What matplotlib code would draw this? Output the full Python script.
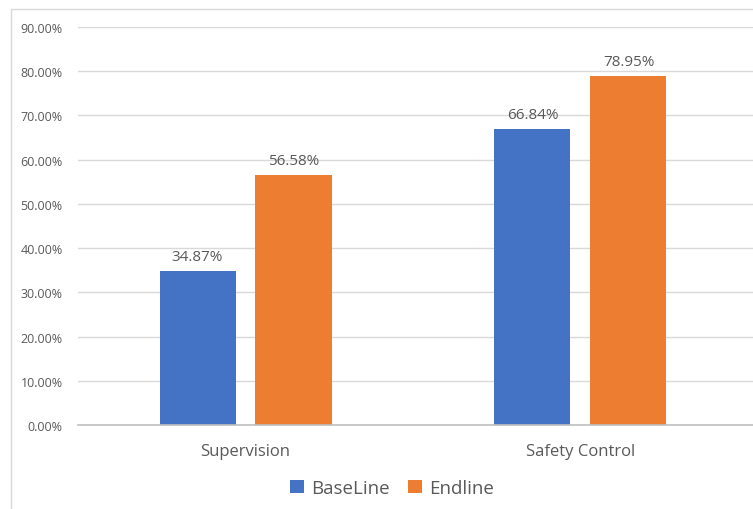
import matplotlib
matplotlib.use("Agg")
import matplotlib.pyplot as plt
from matplotlib.patches import Rectangle
import numpy as np

categories = ["Supervision", "Safety Control"]
series_names = ["BaseLine", "Endline"]
baseline = [34.87, 66.84]
endline = [56.58, 78.95]
colors = ["#4472C4", "#ED7D31"]
yticks = [0, 10, 20, 30, 40, 50, 60, 70, 80, 90]

plt.rcParams["font.family"] = ["Open Sans", "DejaVu Sans"]
W, H = 753, 510
fig = plt.figure(figsize=(W / 100, H / 100), dpi=100)

# chart frame
fig.patches.append(Rectangle((11 / W, -0.1), 1.2, (H - 10) / H + 0.1,
                             transform=fig.transFigure, fill=False,
                             edgecolor="#d9d9d9", linewidth=1))

ax = fig.add_axes([78 / W, (H - 426) / H, (753 - 78) / W, (426 - 28) / H])
x = np.arange(len(categories))
bw = 76 / 335
off = 48 / 335
text_color = "#595959"

for vals, name, c, dx in [(baseline, series_names[0], colors[0], -off),
                          (endline, series_names[1], colors[1], off)]:
    bars = ax.bar(x + dx, vals, width=bw, color=c, label=name, zorder=3)
    for b, v in zip(bars, vals):
        ax.text(b.get_x() + b.get_width() / 2, v + 1.6, f"{v:.2f}%",
                ha="center", va="bottom", fontsize=11, color=text_color)

ax.set_xlim(-0.5, 1.5 + 5 / 335)
ax.set_ylim(0, 90)
ax.set_yticks(yticks)
ax.set_yticklabels([f"{t:.2f}%" for t in yticks], fontsize=9, color=text_color)
ax.set_xticks(x)
ax.set_xticklabels(categories, fontsize=12, color=text_color)
ax.tick_params(axis="both", length=0)
ax.tick_params(axis="y", pad=11)
ax.tick_params(axis="x", pad=13)
ax.grid(axis="y", color="#d9d9d9", linewidth=1, zorder=0)
for s in ["top", "right", "left"]:
    ax.spines[s].set_visible(False)
ax.spines["bottom"].set_color("#bfbfbf")
ax.spines["bottom"].set_linewidth(1.2)
ax.spines["bottom"].set_zorder(4)

fig.legend(loc="center", bbox_to_anchor=(392 / W, (H - 489) / H), ncol=2,
           frameon=False, fontsize=13.5, handlelength=0.75, handleheight=0.75,
           handletextpad=0.35, columnspacing=1.0, labelcolor=text_color)

fig.savefig("out.png", dpi=100, facecolor="white")
